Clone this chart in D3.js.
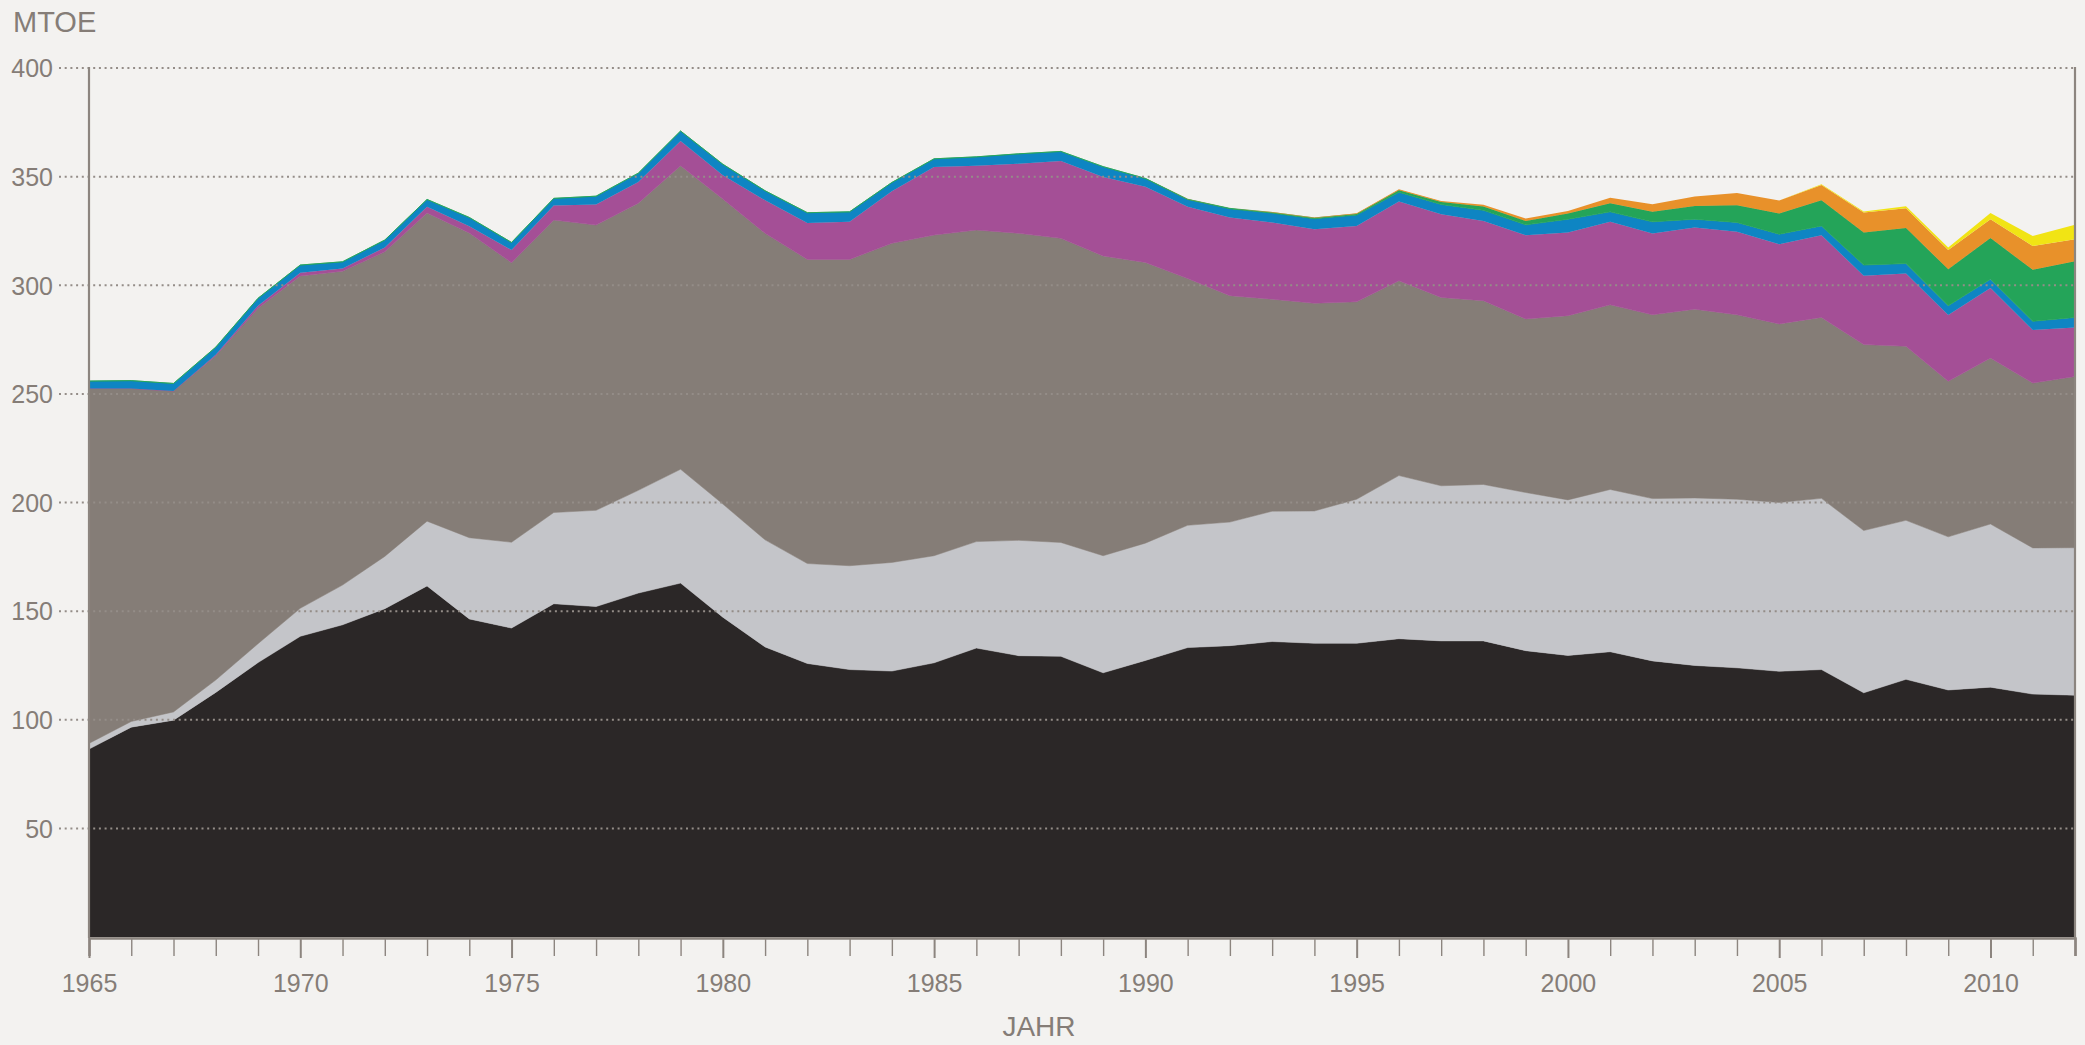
<!DOCTYPE html>
<html>
<head>
<meta charset="utf-8">
<script src="https://cdnjs.cloudflare.com/ajax/libs/d3/7.8.5/d3.min.js"></script>
<style>
  html, body { margin: 0; padding: 0; background: #f3f2f0; }
  svg { display: block; }
  text { font-family: "Liberation Sans", Arial, sans-serif; fill: #857d77; }
</style>
</head>
<body>
<svg id="chart" width="2085" height="1045"></svg>
<script>
// ---------- data (MTOE) ----------
const years = d3.range(1965, 2013);
const oil = [86.5, 96.6, 99.8, 112.6, 126.3, 138.4, 143.7, 151.1, 161.6, 146.4, 142.2, 153.4, 152.1, 158.3, 162.9, 147.2, 133.5, 125.9, 123.1, 122.4, 126.2, 133.0, 129.5, 129.2, 121.6, 127.3, 133.2, 134.1, 136.0, 135.2, 135.2, 137.3, 136.3, 136.3, 131.8, 129.6, 131.3, 127.1, 125.0, 123.9, 122.3, 123.1, 112.4, 118.6, 113.7, 115.0, 111.8, 111.3];
const gas = [2.6, 2.6, 3.8, 5.7, 8.7, 12.9, 18.3, 24.1, 29.8, 37.4, 39.5, 42.0, 44.3, 47.3, 52.4, 52.1, 49.3, 46.0, 47.8, 50.0, 49.3, 49.0, 53.1, 52.4, 53.9, 54.0, 56.3, 56.9, 60.0, 60.9, 66.3, 75.1, 71.4, 72.0, 72.8, 71.6, 74.7, 74.7, 77.1, 77.6, 77.7, 78.8, 74.7, 73.2, 70.5, 75.1, 67.3, 67.9];
const coal = [163.4, 153.3, 147.7, 149.3, 154.4, 153.0, 144.5, 140.2, 141.9, 140.3, 128.7, 134.6, 131.3, 132.2, 139.7, 140.4, 141.1, 140.0, 141.0, 146.9, 147.6, 143.4, 141.3, 140.0, 138.0, 129.2, 113.6, 104.2, 97.6, 95.6, 90.9, 89.7, 86.7, 84.6, 79.9, 84.8, 85.0, 84.6, 86.9, 84.9, 82.2, 83.3, 85.6, 80.1, 71.6, 76.4, 75.9, 78.8];
const nuclear = [0, 0, 0, 0.4, 1.2, 1.5, 1.2, 2.0, 2.8, 3.1, 5.8, 6.7, 9.5, 9.7, 11.4, 10.9, 15.2, 16.8, 17.3, 24.0, 31.3, 29.6, 32.0, 35.6, 36.3, 34.8, 33.0, 36.0, 35.3, 34.1, 34.9, 36.4, 38.3, 36.7, 38.5, 38.3, 38.2, 37.4, 37.6, 38.2, 36.7, 37.8, 31.7, 33.5, 30.5, 32.2, 24.4, 22.6];
const hydro = [3.4, 3.6, 3.5, 3.5, 3.4, 3.5, 3.1, 3.4, 3.4, 4.0, 3.5, 3.3, 3.8, 4.1, 4.6, 5.1, 4.4, 4.7, 4.6, 4.0, 3.8, 4.1, 4.6, 4.4, 4.8, 3.8, 3.4, 4.0, 4.3, 4.8, 5.0, 4.3, 4.5, 4.9, 4.8, 6.1, 4.6, 5.4, 3.8, 4.3, 4.6, 4.3, 4.9, 4.6, 4.3, 4.1, 4.0, 4.6];
const wind = [0, 0, 0, 0, 0, 0, 0, 0, 0, 0, 0, 0, 0, 0, 0, 0, 0, 0, 0, 0, 0, 0, 0, 0, 0, 0.1, 0.1, 0.2, 0.3, 0.4, 0.5, 0.9, 1.1, 1.7, 1.8, 2.6, 3.9, 4.6, 6.1, 7.9, 9.5, 11.8, 15.0, 16.3, 16.8, 18.9, 23.7, 25.8];
const otherRenewables = [0, 0, 0, 0, 0, 0, 0, 0, 0, 0, 0, 0, 0, 0, 0, 0, 0, 0, 0, 0, 0, 0, 0, 0, 0, 0.1, 0.1, 0.1, 0.2, 0.2, 0.3, 0.5, 0.5, 0.8, 1.1, 1.2, 2.6, 3.5, 4.3, 5.7, 6.0, 7.1, 9.2, 9.2, 8.8, 8.7, 11.0, 10.2];
const solar = [0, 0, 0, 0, 0, 0, 0, 0, 0, 0, 0, 0, 0, 0, 0, 0, 0, 0, 0, 0, 0, 0, 0, 0, 0, 0, 0, 0, 0, 0, 0, 0, 0, 0, 0, 0, 0, 0, 0, 0, 0, 0.3, 0.4, 0.9, 1.2, 2.8, 4.6, 6.6];

const seriesKeys = ["oil", "gas", "coal", "nuclear", "hydro", "wind", "otherRenewables", "solar"];
const seriesColors = ["#2b2727", "#c4c5c9", "#857d77", "#a44f96", "#0e85c3", "#24a459", "#e8912a", "#f1e414"];
const yTicks = [50, 100, 150, 200, 250, 300, 350, 400];
const xLabelYears = [1965, 1970, 1975, 1980, 1985, 1990, 1995, 2000, 2005, 2010];
const yTitle = "MTOE";
const xTitle = "JAHR";

(function () {
  // ---------- build table ----------
  const seriesData = { oil, gas, coal, nuclear, hydro, wind, otherRenewables, solar };
  const table = years.map((yr, i) => {
    const row = { year: yr };
    seriesKeys.forEach(k => row[k] = seriesData[k][i]);
    return row;
  });

  // ---------- layout ----------
  const svg = d3.select("#chart");
  const W = 2085, H = 1045;
  const mLeft = 89, mRight = 2075, mTop = 68, mBottom = 937;
  const axisColor = "#8c857f";

  svg.append("rect").attr("width", W).attr("height", H).attr("fill", "#f3f2f0");

  const x = d3.scaleLinear().domain([1965, 2012]).range([mLeft, mRight]);
  const y = d3.scaleLinear().domain([0, 400]).range([mBottom, mTop]);

  const layers = d3.stack().keys(seriesKeys)(table);

  const area = d3.area()
    .x(d => x(d.data.year))
    .y0(d => y(d[0]))
    .y1(d => y(d[1]));

  svg.append("g").selectAll("path")
    .data(layers)
    .join("path")
    .attr("d", area)
    .attr("fill", (d, i) => seriesColors[i])
    .attr("stroke", (d, i) => d.key === "wind" ? seriesColors[i] : (i < 4 ? seriesColors[i] : "none"))
    .attr("stroke-width", (d, i) => d.key === "wind" ? 0.8 : 0.5)
    .attr("stroke-linejoin", "round");

  // ---------- grid (dotted, over areas) ----------
  svg.append("g").selectAll("line")
    .data(yTicks)
    .join("line")
    .attr("x1", 59)
    .attr("x2", mRight)
    .attr("y1", d => y(d))
    .attr("y2", d => y(d))
    .attr("stroke", "#948d88")
    .attr("stroke-width", 2)
    .attr("stroke-dasharray", "2 3.7");

  // y labels
  const yAxis = d3.axisLeft(y).tickValues(yTicks).tickSize(0).tickPadding(0);
  const gy = svg.append("g").attr("transform", "translate(53,0)").call(yAxis);
  gy.select(".domain").remove();
  gy.selectAll("text")
    .attr("font-size", 25)
    .attr("fill", "#857d77")
    .attr("font-family", '"Liberation Sans", Arial, sans-serif')
    .attr("dy", "0.35em");

  // vertical frame lines
  svg.append("line").attr("x1", mLeft).attr("x2", mLeft).attr("y1", mTop - 1).attr("y2", mBottom + 1)
    .attr("stroke", axisColor).attr("stroke-width", 2.2);
  svg.append("line").attr("x1", mRight).attr("x2", mRight).attr("y1", mTop - 1).attr("y2", mBottom + 1)
    .attr("stroke", axisColor).attr("stroke-width", 2.2);

  // x axis
  const xAxis = d3.axisBottom(x)
    .tickValues(years)
    .tickSize(18)
    .tickFormat(d => xLabelYears.includes(d) ? String(d) : "");
  const gx = svg.append("g").attr("transform", `translate(0,${mBottom + 1})`).call(xAxis);
  gx.select(".domain").attr("stroke", axisColor).attr("stroke-width", 2.5);
  gx.selectAll(".tick line")
    .attr("stroke", axisColor)
    .attr("stroke-width", d => xLabelYears.includes(d) || d === 2012 ? 2 : 1.4)
    .attr("y2", d => xLabelYears.includes(d) ? 20 : 18);
  gx.selectAll(".tick text")
    .attr("font-size", 25)
    .attr("fill", "#857d77")
    .attr("font-family", '"Liberation Sans", Arial, sans-serif')
    .attr("y", 36);

  // titles
  svg.append("text").attr("x", 13).attr("y", 32).attr("font-size", 29).text(yTitle);
  svg.append("text").attr("x", 1039).attr("y", 1036).attr("font-size", 28)
    .attr("text-anchor", "middle").text(xTitle);
})();
</script>
</body>
</html>
